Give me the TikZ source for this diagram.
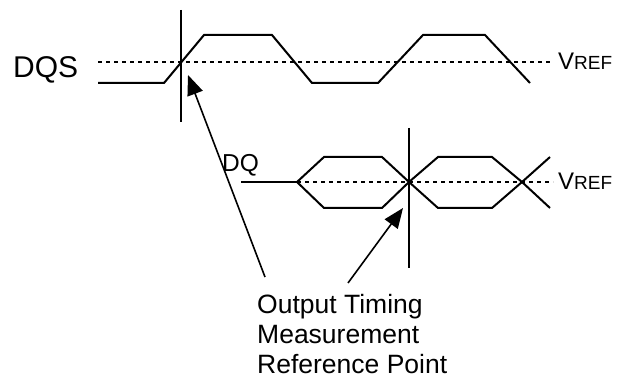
\documentclass[tikz,border=0pt]{standalone}
\usepackage{fontspec}
\setmainfont{Liberation Sans}
\usetikzlibrary{arrows.meta}

\tikzset{
  wave/.style={line width=2pt, line join=miter},
  vref/.style={line width=1.1pt, dash pattern=on 4pt off 4pt},
  marker/.style={line width=1.7pt},
  pointer/.style={line width=1.6pt, -{Triangle[length=20pt,width=16pt]}},
  lbl/.style={anchor=base west, inner sep=0pt}
}

\begin{document}
\begin{tikzpicture}[x=1pt,y=-1pt]
    \useasboundingbox (0,0) rectangle (628,379);

    \node[lbl, font=\fontsize{30}{30}\selectfont] (dqs) at (13,78) {DQS};
    \node[lbl, font=\fontsize{24.5}{24.5}\selectfont] (dq) at (222,172) {DQ};
    \node[lbl] (vrefa) at (558,70) {\fontsize{24}{24}\selectfont V\fontsize{19}{19}\selectfont REF};
    \node[lbl] (vrefb) at (558,190) {\fontsize{24}{24}\selectfont V\fontsize{19}{19}\selectfont REF};

    \draw[vref] (98,62) -- (550,62);
    \draw[wave] (98,83) -- (164,83) -- (204,35) -- (272,35) -- (312,83) -- (378,83)
        -- (423,35) -- (485,35) -- (530,83);
    \draw[marker] (181,10) -- (181,122);

    \draw[vref] (297,182) -- (553,182);
    \draw[wave] (241,182) -- (297,182);
    \draw[wave] (297,182) -- (324,157) -- (382,157) -- (409,182) -- (438,157)
        -- (492,157) -- (522,182) -- (550,157);
    \draw[wave] (297,182) -- (324,208) -- (382,208) -- (409,182) -- (438,208)
        -- (492,208) -- (522,182) -- (550,208);
    \draw[marker] (409,128) -- (409,268);

    \node[lbl, font=\fontsize{26.5}{26.5}\selectfont] (txta) at (257,313) {Output Timing};
    \node[lbl, font=\fontsize{26.5}{26.5}\selectfont] (txtb) at (257,343) {Measurement};
    \node[lbl, font=\fontsize{26.5}{26.5}\selectfont] (txtc) at (257,373) {Reference Point};

    \coordinate (fromA) at (265,277);
    \coordinate (fromB) at (348,283);
    \coordinate (tipA) at (188,75);
    \coordinate (tipB) at (403,208);
    \draw[pointer] (fromA) -- (tipA);
    \draw[pointer] (fromB) -- (tipB);
\end{tikzpicture}
\end{document}
